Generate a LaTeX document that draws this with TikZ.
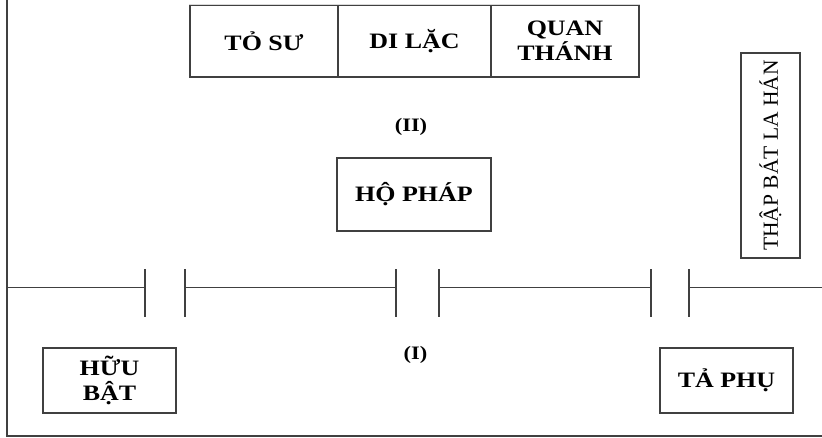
\documentclass[tikz,border=0pt]{standalone}
\usepackage{fontspec}
\setmainfont{Liberation Serif}
\newfontfamily\widefont{Liberation Serif}[FakeStretch=1.18]
\begin{document}
\begin{tikzpicture}[x=1pt,y=-1pt,
  ln/.style={draw=black!75,line width=1.3pt},
  lbl/.style={font=\widefont\bfseries\fontsize{22}{26}\selectfont,align=center,text=black},
  boxn/.style={ln,lbl,inner sep=0pt}]
\useasboundingbox (0,0) rectangle (822,438);
% outer frame
\coordinate (tl) at (7,0);
\coordinate (bl) at (7,436);
\coordinate (br) at (822,436);
\draw[ln] (tl) -- (bl) -- (br);
% top boxes
\node[boxn,minimum width=148pt,minimum height=72pt] (toSu) at (264,41) {TỎ SƯ};
\node[boxn,minimum width=153pt,minimum height=72pt] (diLac) at (414.5,41) {DI LẶC};
\node[boxn,minimum width=148pt,minimum height=72pt] (quan) at (565,41) {QUAN\\[-1pt]THÁNH};
\draw[black!15,line width=1pt] (toSu.north west) -- (quan.north east);
% labels
\node[lbl,font=\widefont\bfseries\fontsize{19}{22}\selectfont] (II) at (411,127) {(II)};
\node[lbl,font=\widefont\bfseries\fontsize{19}{22}\selectfont] (I) at (415.5,355) {(I)};
% Ho Phap
\node[boxn,minimum width=154pt,minimum height=73pt] (hoPhap) at (414,194.5) {HỘ PHÁP};
% Thap bat la han
\node[ln,inner sep=0pt,minimum width=205pt,minimum height=59pt,rotate=90,font=\fontsize{21.5}{24}\selectfont] (thap) at (770.5,155.5) {THẬP BÁT LA HÁN};
% Huu Bat, Ta Phu
\node[boxn,minimum width=133pt,minimum height=65pt] (huuBat) at (109.5,380.5) {HỮU\\[-1pt]BẬT};
\node[boxn,minimum width=133pt,minimum height=65pt] (taPhu) at (726.5,380.5) {TẢ PHỤ};
% horizontal line with gaps
\coordinate (h0) at (7,288);
\coordinate (a1) at (145,288);
\coordinate (a2) at (185,288);
\coordinate (b1) at (396,288);
\coordinate (b2) at (439,288);
\coordinate (c1) at (651,288);
\coordinate (c2) at (689,288);
\coordinate (h9) at (822,288);
\draw[ln,line width=1pt] (h0) -- (a1) (a2) -- (b1) (b2) -- (c1) (c2) -- (h9);
\foreach \p in {a1,a2,b1,b2,c1,c2}{
  \draw[ln] ([yshift=-29pt]\p) -- ([yshift=19pt]\p);
}
\end{tikzpicture}
\end{document}
